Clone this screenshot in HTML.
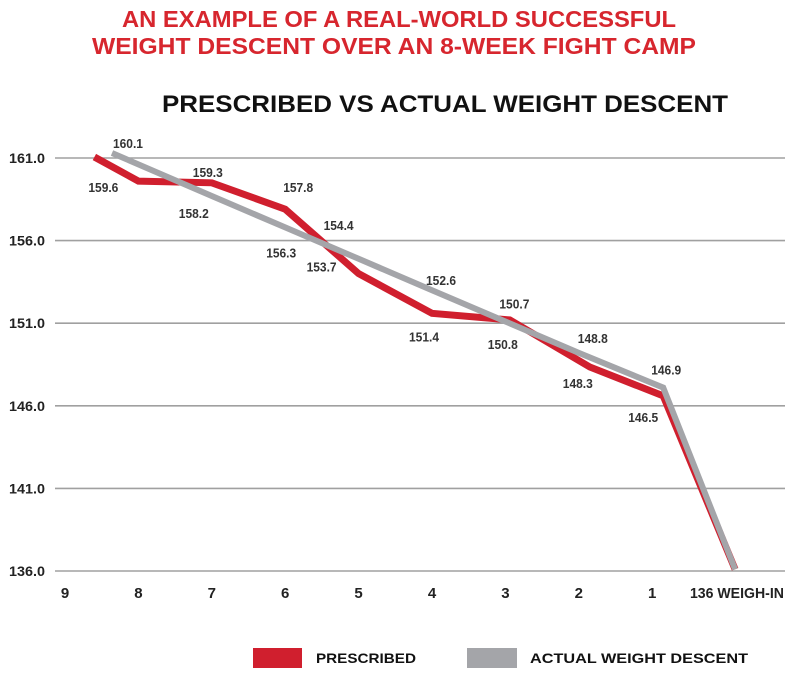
<!DOCTYPE html>
<html><head><meta charset="utf-8"><style>
html,body{margin:0;padding:0;background:#fff;}
svg{display:block;font-family:"Liberation Sans Narrow","Liberation Sans",sans-serif;}
</style></head><body>
<svg id="c" width="800" height="677" viewBox="0 0 800 677">
<text x="399" y="27" text-anchor="middle" font-size="23" font-weight="bold" fill="#d7262e" textLength="554" lengthAdjust="spacingAndGlyphs">AN EXAMPLE OF A REAL-WORLD SUCCESSFUL</text>
<text x="394" y="54" text-anchor="middle" font-size="23" font-weight="bold" fill="#d7262e" textLength="604" lengthAdjust="spacingAndGlyphs">WEIGHT DESCENT OVER AN 8-WEEK FIGHT CAMP</text>
<text x="445" y="112" text-anchor="middle" font-family="Liberation Sans,sans-serif" font-size="24" font-weight="bold" fill="#111" textLength="566" lengthAdjust="spacingAndGlyphs">PRESCRIBED VS ACTUAL WEIGHT DESCENT</text>
<g id="grid"></g><g id="lines"></g><g id="labels"></g>
<g>
<rect x="253" y="648" width="49" height="20" fill="#d01f2e"/>
<text x="316" y="663" font-family="Liberation Sans,sans-serif" font-size="14" font-weight="bold" fill="#111" textLength="100" lengthAdjust="spacingAndGlyphs">PRESCRIBED</text>
<rect x="467" y="648" width="50" height="20" fill="#a4a5a9"/>
<text x="530" y="663" font-family="Liberation Sans,sans-serif" font-size="14" font-weight="bold" fill="#111" textLength="218" lengthAdjust="spacingAndGlyphs">ACTUAL WEIGHT DESCENT</text>
</g>
</svg>
<script>
const yTicks=[161,156,151,146,141,136];
const yTickLabels=["161.0","156.0","151.0","146.0","141.0","136.0"];
const xTickWeeks=[9,8,7,6,5,4,3,2,1,-0.1];
const xTickLabels=["9","8","7","6","5","4","3","2","1","136 WEIGH-IN"];
const prescribedWeeks=[8.6,8,7,6,5,4,2.94,1.85,0.85,-0.13];
const prescribedValues=[161.06,159.6,159.5,157.9,154.0,151.6,151.2,148.35,146.6,136.1];
const actualWeeks=[8.36,7,6,5,4,3,2,0.85,-0.13];
const actualValues=[161.3,158.7,156.8,154.9,153.0,151.1,149.2,147.1,136.1];
const prescribedLabels=["159.6","159.3","157.8","153.7","151.4","150.8","148.3","146.5"];
const prescribedLabelIdx=[0,2,3,4,5,6,7,8];
const prescribedLabelOff=[[9,30],[-4,-11],[13,-22],[-37,-7],[-8,23],[-7,24],[-12,16],[-20,21]];
const actualLabels=["160.1","158.2","156.3","154.4","152.6","150.7","148.8","146.9"];
const actualLabelIdx=[0,1,2,3,4,5,6,7];
const actualLabelOff=[[16,-10],[-18,17],[-4,25],[-20,-34],[9,-10],[9,-18],[14,-15],[3,-18]];
const NS="http://www.w3.org/2000/svg";
const xs=w=>65+(9-w)*73.4;
const ys=v=>158+(161-v)*16.52;
function mk(t,a,p){const e=document.createElementNS(NS,t);for(const k in a)e.setAttribute(k,a[k]);p.appendChild(e);return e;}
const grid=document.getElementById('grid'),lines=document.getElementById('lines'),labels=document.getElementById('labels');
yTicks.forEach((v,i)=>{
 const l=mk('line',{x1:55,x2:785,y1:ys(v),y2:ys(v),stroke:'#a0a0a0','stroke-width':1.6},grid);
 
 
 const t=mk('text',{x:27,y:ys(v)+5,'text-anchor':'middle','font-size':14,'font-weight':'bold',fill:'#222',textLength:36,lengthAdjust:'spacingAndGlyphs'},grid);
 t.textContent=yTickLabels[i];
 
 
});
xTickWeeks.forEach((w,i)=>{
 const a={x:i===9?xs(w)+4:xs(w),y:598,'text-anchor':'middle','font-size':15,'font-weight':'bold',fill:'#222'};
 if(i===9){a.textLength=94;a.lengthAdjust='spacingAndGlyphs';}
 const t=mk('text',a,grid);
 t.textContent=xTickLabels[i];
 
 
});
function pts(ws,vs){return ws.map((w,i)=>xs(w).toFixed(1)+','+ys(vs[i]).toFixed(1)).join(' ');}
const pr=mk('polyline',{points:pts(prescribedWeeks,prescribedValues),fill:'none',stroke:'#d01f2e','stroke-width':7,'stroke-linejoin':'miter'},lines);


const ac=mk('polyline',{points:pts(actualWeeks,actualValues),fill:'none',stroke:'#a4a5a9','stroke-width':6,'stroke-linejoin':'miter'},lines);


function lab(txts,idx,off,ws,vs,name){
 txts.forEach((s,i)=>{
  const k=idx[i];
  const t=mk('text',{x:xs(ws[k])+off[i][0],y:ys(vs[k])+off[i][1]+5,'text-anchor':'middle','font-size':13,'font-weight':'bold',fill:'#333',textLength:30,lengthAdjust:'spacingAndGlyphs'},labels);
  t.textContent=s;
  
  
 });
}
lab(prescribedLabels,prescribedLabelIdx,prescribedLabelOff,prescribedWeeks,prescribedValues,'prescribed-value-label');
lab(actualLabels,actualLabelIdx,actualLabelOff,actualWeeks,actualValues,'actual-value-label');
</script>
</body></html>
